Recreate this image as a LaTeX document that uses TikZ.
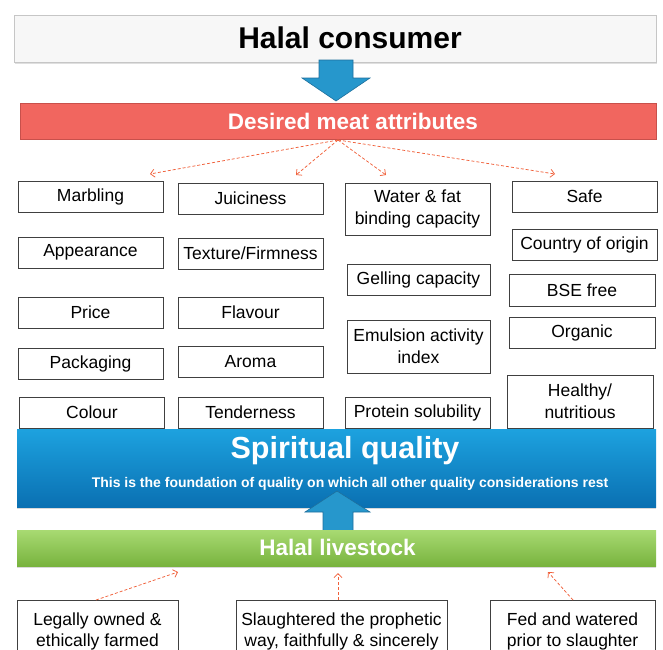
\documentclass[tikz,border=0pt]{standalone}
\usepackage{fontspec}
\setmainfont{Liberation Sans}
\usetikzlibrary{shadows,arrows.meta}
\definecolor{dashred}{HTML}{F0603A}
\definecolor{redfill}{HTML}{F1665F}
\definecolor{redline}{HTML}{C8504B}
\definecolor{bluetop}{HTML}{1DA2DF}
\definecolor{bluebot}{HTML}{0A70B2}
\definecolor{greentop}{HTML}{A8DA72}
\definecolor{greenbot}{HTML}{78B33E}
\definecolor{arrowblue}{HTML}{2697CC}
\definecolor{arrowline}{HTML}{1E6F9C}
\begin{document}
\begin{tikzpicture}[x=1pt,y=-1pt,
  attr/.style={draw=black!75, line width=0.8pt, fill=white, inner sep=0pt, align=center,
    font=\fontsize{17.5}{22}\selectfont, minimum height=31pt, minimum width=145pt},
  dashar/.style={draw=dashred, dash pattern=on 3pt off 2pt, line width=0.75pt,
    -{Straight Barb[length=4pt,width=8pt]}},
  bar/.style={inner sep=0pt, draw=none},
  bartext/.style={text=white, font=\fontsize{22.5}{26}\selectfont\bfseries, inner sep=0pt},
  blockarrow/.style={fill=arrowblue, draw=arrowline, line width=0.6pt, line join=miter}
]
\useasboundingbox (0,0) rectangle (663,649);
\clip (0,0) rectangle (663,649);

% Top consumer box
\node[draw=gray!45, fill=gray!6, line width=0.8pt, minimum width=642pt, minimum height=47pt,
  drop shadow={shadow xshift=1pt, shadow yshift=-2pt, opacity=0.25}] (consumer) at (335,38.5) {};
\node[font=\fontsize{30}{36}\selectfont\bfseries, inner sep=0pt] (consumertext) at (350,38) {Halal consumer};

% Down block arrow
\coordinate (da1) at (319,60);
\coordinate (da2) at (353,60);
\path[blockarrow] (da1) -- (da2) -- (353,78) -- (370,78) -- (336,101) -- (302,78) -- (319,78) -- cycle;

% Red bar
\node[bar, fill=redfill, draw=redline, line width=0.8pt, minimum width=636pt, minimum height=36pt] (desired) at (338,121) {};
\node[bartext] (desiredtext) at (353,121) {Desired meat attributes};

% Attribute boxes, column 1
\node[attr] (marbling) at (90.5,196.5) {Marbling};
\node[attr] (appearance) at (90.5,252.5) {Appearance};
\node[attr] (price) at (90.5,312.5) {Price};
\node[attr] (packaging) at (90.5,363.5) {Packaging};
\node[attr] (colour) at (92,412.5) {Colour};
% column 2
\node[attr] (juiciness) at (250.5,198.5) {Juiciness};
\node[attr] (texture) at (250.5,253.5) {Texture/Firmness};
\node[attr] (flavour) at (250.5,312.5) {Flavour};
\node[attr] (aroma) at (250.5,361.5) {Aroma};
\node[attr] (tenderness) at (250.5,412.5) {Tenderness};
% column 3
\node[attr, minimum height=52pt] (water) at (417.5,209) {Water \& fat\\binding capacity};
\node[attr, minimum width=143pt] (gelling) at (418.5,279.5) {Gelling capacity};
\node[attr, minimum width=143pt, minimum height=53pt] (emulsion) at (418.5,346.5) {Emulsion activity\\index};
\node[attr] (protein) at (417.5,412.5) {Protein solubility};
% column 4
\node[attr] (safe) at (584.5,196.5) {Safe};
\node[attr] (country) at (584.5,244.5) {Country of origin};
\node[attr, minimum width=146pt, minimum height=32pt] (bse) at (582,290) {BSE free};
\node[attr, minimum width=146pt] (organic) at (582,332.5) {Organic};
\node[attr, minimum width=146pt, minimum height=53pt] (healthy) at (580,401.5) {Healthy/\\nutritious};

% Dashed arrows from the red bar
\coordinate (dsrc) at (338,140);
\coordinate (t1) at (150,174);
\coordinate (t2) at (296,175);
\coordinate (t3) at (386,175);
\coordinate (t4) at (555,174);
\draw[dashar] (dsrc) -- (t1);
\draw[dashar] (dsrc) -- (t2);
\draw[dashar] (dsrc) -- (t3);
\draw[dashar] (dsrc) -- (t4);

% Blue bar
\node[bar, top color=bluetop, bottom color=bluebot, minimum width=639pt, minimum height=78pt,
  drop shadow={shadow xshift=0pt, shadow yshift=-2pt, opacity=0.3}] (spiritual) at (336.5,468) {};
\node[text=white, font=\fontsize{30.5}{36}\selectfont\bfseries, inner sep=0pt] (sqtext) at (345,451) {Spiritual quality};
\node[text=white, font=\fontsize{14}{16}\selectfont\bfseries, inner sep=0pt] (sqsub) at (350,484)
  {This is the foundation of quality on which all other quality considerations rest};

% Up block arrow
\coordinate (ua1) at (323,531);
\coordinate (ua2) at (353,531);
\path[blockarrow] (ua1) -- (323,512) -- (305,512) -- (337,491) -- (370,512) -- (353,512) -- (ua2) -- cycle;

% Green bar
\node[bar, top color=greentop, bottom color=greenbot, minimum width=639pt, minimum height=36pt,
  drop shadow={shadow xshift=0pt, shadow yshift=-2pt, opacity=0.3}] (livestock) at (336.5,548) {};
\node[bartext] (livestocktext) at (337.5,547) {Halal livestock};

% Bottom boxes
\node[attr, minimum width=161pt, minimum height=62pt, anchor=north] (legal) at (97.5,600)
  {\raisebox{10pt}{\begin{tabular}{@{}c@{}}Legally owned \&\\[-1pt]ethically farmed\end{tabular}}};
\node[attr, minimum width=211pt, minimum height=62pt, anchor=north] (slaughter) at (341.5,600)
  {\raisebox{10pt}{\begin{tabular}{@{}c@{}}Slaughtered the prophetic\\[-1pt]way, faithfully \& sincerely\end{tabular}}};
\node[attr, minimum width=165pt, minimum height=62pt, anchor=north] (fed) at (572.5,600)
  {\raisebox{10pt}{\begin{tabular}{@{}c@{}}Fed and watered\\[-1pt]prior to slaughter\end{tabular}}};

% Dashed arrows to green bar
\coordinate (b1) at (178,572);
\coordinate (b2) at (338,573);
\coordinate (b3) at (548,572);
\coordinate (s1) at (96,600);
\coordinate (s2) at (338,600);
\coordinate (s3) at (573,600);
\draw[dashar] (s1) -- (b1);
\draw[dashar] (s2) -- (b2);
\draw[dashar] (s3) -- (b3);
\end{tikzpicture}
\end{document}
